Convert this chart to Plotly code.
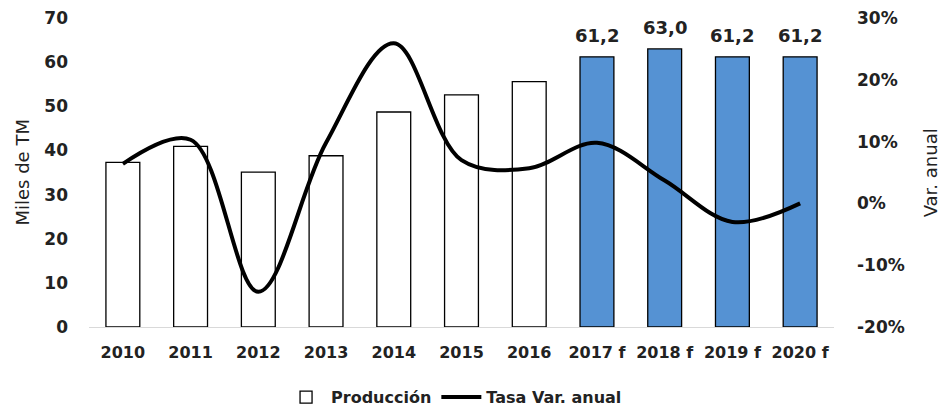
import plotly.graph_objects as go

years = ["2010", "2011", "2012", "2013", "2014", "2015", "2016",
         "2017 f", "2018 f", "2019 f", "2020 f"]
produccion = [37.3, 40.9, 35.1, 38.8, 48.7, 52.6, 55.6, 61.2, 63.0, 61.2, 61.2]
forecast = [False] * 7 + [True] * 4
tasa_var = [0.064, 0.103, -0.143, 0.098, 0.259, 0.070, 0.057, 0.098, 0.037, -0.030, 0.000]
pct_ticks = [-0.2, -0.1, 0.0, 0.1, 0.2, 0.3]

FONT = "DejaVu Sans"
BLUE = "#5592D3"
TXT = "#222222"

bar_colors = [BLUE if f else "white" for f in forecast]
pct_text = [f"{round(v * 100):d}%" for v in pct_ticks]

fig = go.Figure()
fig.add_trace(go.Bar(
    x=years, y=produccion, name="Producción",
    marker=dict(color=bar_colors, line=dict(color="black", width=1.3)),
))
fig.add_trace(go.Scatter(
    x=years, y=tasa_var, name="Tasa Var. anual", yaxis="y2",
    mode="lines", line=dict(color="black", width=4, shape="spline", smoothing=1.0),
))

annotations = [
    dict(text="Miles de TM", textangle=-90, xref="paper", yref="paper",
         x=-0.0899, y=0.5, xanchor="center", yanchor="middle", showarrow=False,
         font=dict(family=FONT, size=18, color=TXT)),
    dict(text="Var. anual", textangle=-90, xref="paper", yref="paper",
         x=1.13, y=0.5, xanchor="center", yanchor="middle", showarrow=False,
         font=dict(family=FONT, size=18, color=TXT)),
]
for yr, v, f in zip(years, produccion, forecast):
    if f:
        annotations.append(dict(
            text=f"{v:.1f}".replace(".", ","), x=yr, y=v, xref="x", yref="y",
            xanchor="center", yanchor="bottom", yshift=9, showarrow=False,
            font=dict(family=FONT, size=18, color=TXT, weight="bold")))

fig.update_layout(
    width=943, height=409,
    margin=dict(l=89, r=109, t=18, b=82, autoexpand=False),
    paper_bgcolor="white", plot_bgcolor="white",
    bargap=0.5,
    font=dict(family=FONT, color=TXT),
    showlegend=True,
    legend=dict(orientation="h", x=0.49, xanchor="center", y=-0.227, yanchor="middle",
                font=dict(family=FONT, size=16, weight="bold"), itemwidth=40,
                tracegroupgap=0),
    xaxis=dict(showgrid=False, showline=True, linecolor="#d9d9d9", linewidth=1,
               ticks="", ticklabelstandoff=11, automargin=False,
               tickfont=dict(family=FONT, size=16, weight="bold")),
    yaxis=dict(range=[0, 70], dtick=10, showgrid=False, showline=False, zeroline=False,
               ticks="", ticklabelstandoff=20, automargin=False,
               tickfont=dict(family=FONT, size=17, weight="bold")),
    yaxis2=dict(range=[-0.2, 0.3], tickvals=pct_ticks, ticktext=pct_text,
                overlaying="y", side="right", automargin=False,
                showgrid=False, showline=False, zeroline=False, ticks="",
                ticklabelstandoff=22,
                tickfont=dict(family=FONT, size=17, weight="bold")),
    annotations=annotations,
)

fig.write_html("out.html", config={"displayModeBar": False},
               post_script="document.body.style.margin='0';document.body.style.overflow='hidden';")
